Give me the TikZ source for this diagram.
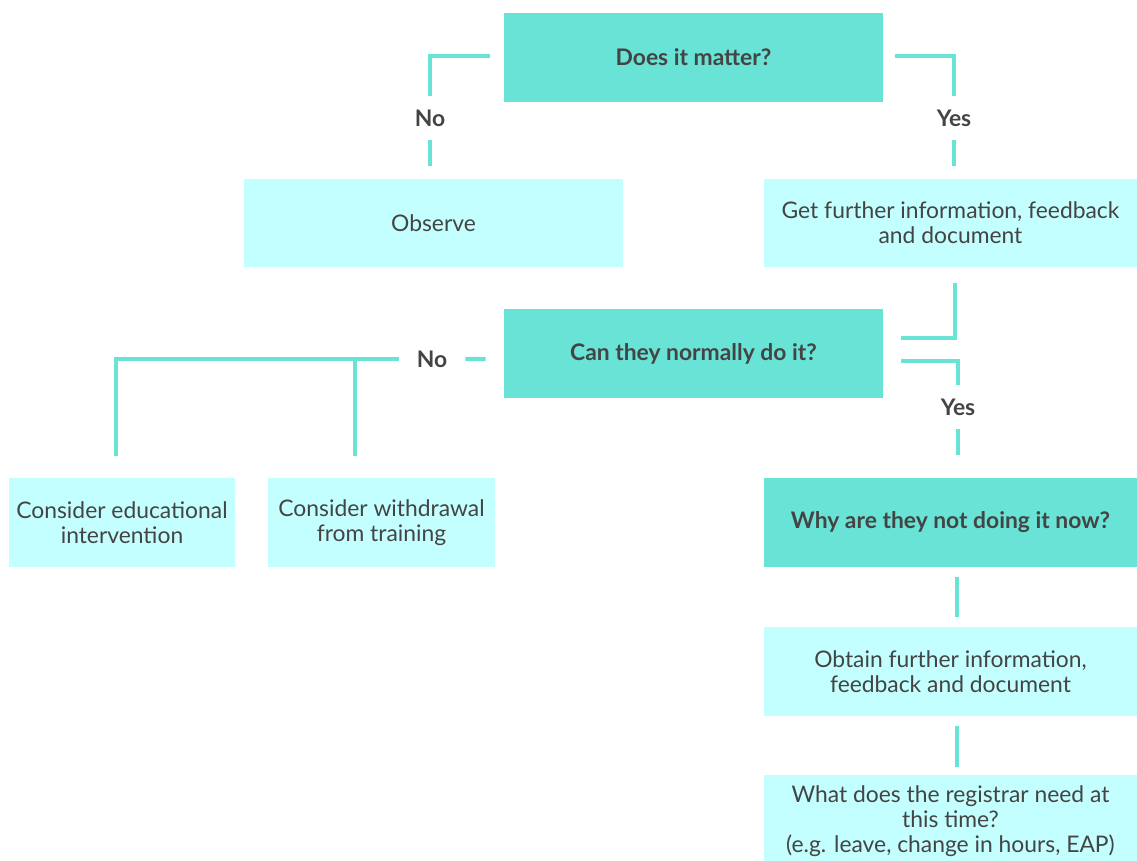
\documentclass[tikz,border=0pt]{standalone}
\usepackage{fontspec}
\setmainfont{Lato}
\usetikzlibrary{positioning}
\definecolor{qteal}{RGB}{104,227,214}
\definecolor{acyan}{RGB}{196,255,255}
\definecolor{txtgray}{RGB}{68,68,68}

\begin{document}
\begin{tikzpicture}[
  x=0.02cm, y=-0.02cm,
  font=\fontsize{13}{14.2}\selectfont, text=txtgray,
  qbox/.style={rectangle, fill=qteal, minimum height=1.78cm,
               align=center, inner sep=0pt, font=\fontsize{13}{14.2}\selectfont\bfseries},
  abox/.style={rectangle, fill=acyan, minimum height=1.77cm,
               align=center, inner sep=0pt},
  lbl/.style={minimum width=1.32cm, minimum height=0.86cm, inner sep=0pt,
              font=\fontsize{13}{14.2}\selectfont\bfseries},
  link/.style={qteal, line width=0.085cm}
]
  \useasboundingbox (0,0) rectangle (1137,861);

  \node[qbox, minimum width=7.58cm] (mat) at (693.5,57.5)  {Does it matter?};
  \node[abox, minimum width=7.58cm] (obs) at (433.5,223)   {Observe};
  \node[abox, minimum width=7.46cm] (inf) at (950.5,223)   {Get further information, feedback\\and document};
  \node[qbox, minimum width=7.58cm] (nrm) at (693.5,353.5) {Can they normally do it?};
  \node[abox, minimum width=4.52cm] (edu) at (122,522.5)   {Consider educational\\intervention};
  \node[abox, minimum width=4.54cm] (wdr) at (381.5,522.5) {Consider withdrawal\\from training};
  \node[qbox, minimum width=7.46cm] (why) at (950.5,522.5) {Why are they not doing it now?};
  \node[abox, minimum width=7.46cm] (obt) at (950.5,671.5) {Obtain further information,\\feedback and document};
  \node[abox, minimum width=7.46cm, minimum height=1.86cm] (ned) at (950.5,821.5)
    {What does the registrar need at\\this time?\\(e.g. leave, change in hours, EAP)};

  \node[lbl] (no1)  at (430,118) {No};
  \node[lbl] (yes1) at (954,118) {Yes};
  \node[lbl] (no2)  at (432,359) {No};
  \node[lbl] (yes2) at (958,407) {Yes};

  \draw[link] ([xshift=-0.28cm,yshift=0.03cm]mat.west) -| (no1.north);
  \draw[link, shorten >=0.24cm] (no1.south) -- (no1.south |- obs.north);
  \draw[link] ([xshift=0.24cm,yshift=0.03cm]mat.east) -| (yes1.north);
  \draw[link, shorten >=0.24cm] (yes1.south) -- (yes1.south |- inf.north);

  \draw[link] ([xshift=0.09cm,yshift=-0.3cm]inf.south) |- ([xshift=0.36cm,yshift=0.31cm]nrm.east);
  \draw[link] ([xshift=0.36cm,yshift=-0.15cm]nrm.east) -| (yes2.north);
  \draw[link, shorten >=0.46cm] (yes2.south) -- (yes2.south |- why.north);

  \draw[link] ([xshift=-0.36cm,yshift=-0.11cm]nrm.west) -- (no2.east);
  \coordinate (edutop) at ([xshift=-0.12cm,yshift=0.44cm]edu.north);
  \coordinate (wdrtop) at ([xshift=-0.53cm,yshift=0.44cm]wdr.north);
  \draw[link] (no2.west) -| (edutop);
  \draw[link] (wdrtop) -- (wdrtop |- no2.west);

  \draw[link, shorten <=0.2cm, shorten >=0.2cm] ([xshift=0.13cm]why.south) -- ([xshift=0.13cm]obt.north);
  \draw[link, shorten <=0.2cm, shorten >=0.16cm] ([xshift=0.13cm]obt.south) -- ([xshift=0.13cm]ned.north);
\end{tikzpicture}
\end{document}
